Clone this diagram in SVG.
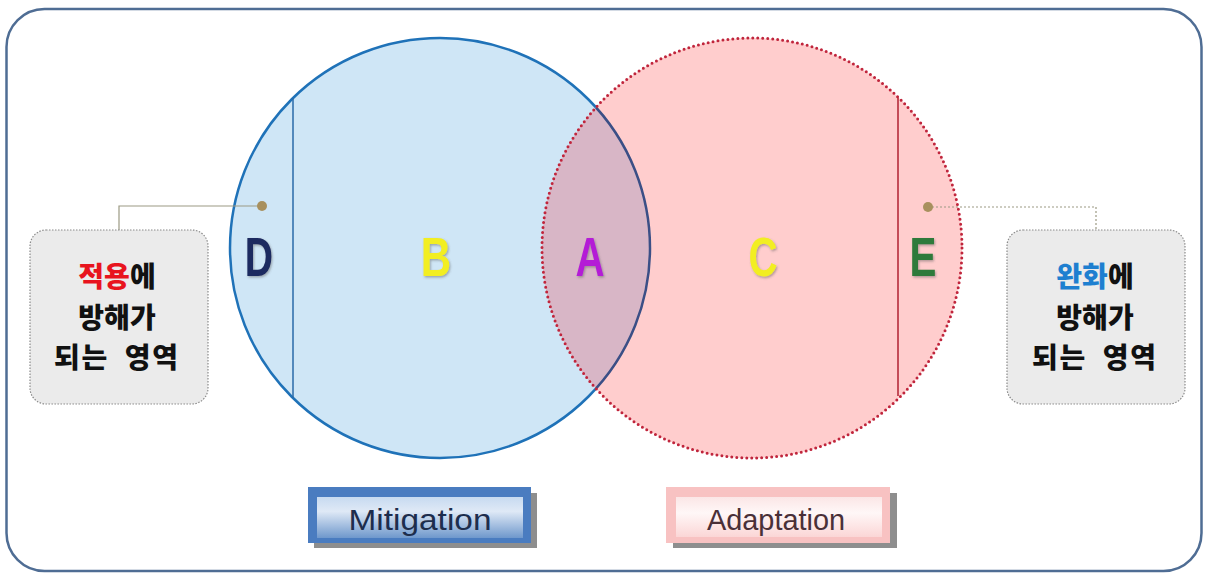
<svg xmlns="http://www.w3.org/2000/svg" width="1209" height="574" viewBox="0 0 1209 574">
<style>
.kr{font-family:"Noto Sans CJK KR","Noto Sans",sans-serif;font-weight:900;font-size:28px;text-anchor:middle;fill:#111}
.lt{font-family:"Liberation Sans",Arial,sans-serif;font-weight:bold;font-size:56px;text-anchor:middle}
.bt{font-family:"Liberation Sans",Arial,sans-serif;font-size:30px;text-anchor:middle}
.box{fill:#ebebeb;stroke:#8a8a8a;stroke-width:1.2;stroke-dasharray:1.5 1.5}
.lead{fill:none;stroke:#9c9a84;stroke-width:1.2}
</style>
<defs>
<clipPath id="pinkClip"><circle cx="752" cy="248" r="210"/></clipPath>
<linearGradient id="mitIn" x1="0" y1="0" x2="0" y2="1">
<stop offset="0" stop-color="#c7daf0"/><stop offset="0.35" stop-color="#dfe9f6"/><stop offset="1" stop-color="#6f98cc"/>
</linearGradient>
<linearGradient id="adaIn" x1="0" y1="0" x2="0" y2="1">
<stop offset="0" stop-color="#fbe6e6"/><stop offset="0.4" stop-color="#fff7f7"/><stop offset="1" stop-color="#fbd6d6"/>
</linearGradient>
<filter id="sh" x="-30%" y="-30%" width="160%" height="160%">
<feDropShadow dx="1.5" dy="1.5" stdDeviation="1.2" flood-color="#555" flood-opacity="0.45"/>
</filter>
</defs>
<rect x="0" y="0" width="1209" height="574" fill="#ffffff"/>
<rect x="6.5" y="9" width="1195" height="562" rx="38" ry="38" fill="#ffffff" stroke="#4f6d94" stroke-width="2.5"/>

<g id="mitigation-circle">
<circle cx="440" cy="248" r="210" fill="#cfe6f6" stroke="#1f72b8" stroke-width="2.5"/>
<line x1="293" y1="98" x2="293" y2="398" stroke="#2a6aa8" stroke-width="1.5"/>
</g>
<g id="adaptation-circle">
<circle cx="752" cy="248" r="210" fill="#ffcdcd"/>
<circle cx="440" cy="248" r="210" fill="#d8b6c6" clip-path="url(#pinkClip)"/>
<circle cx="440" cy="248" r="210" fill="none" stroke="#3b4f86" stroke-width="2.5" clip-path="url(#pinkClip)"/>
<line x1="898" y1="98" x2="898" y2="396" stroke="#b02030" stroke-width="1.5"/>
<circle cx="752" cy="248" r="210" fill="none" stroke="#c0253c" stroke-width="3" stroke-dasharray="0 5" stroke-linecap="round"/>
</g>

<g id="connectors">
<polyline class="lead" points="262,206 119,206 119,230"/>
<circle cx="262" cy="206" r="5" fill="#a8905e"/>
<polyline class="lead" points="928,207 1096,207 1096,230" stroke-dasharray="2 2"/>
<circle cx="928" cy="207" r="5" fill="#a8905e"/>
</g>

<g id="label-D"><text class="lt" fill="#1c2a60" filter="url(#sh)" transform="translate(259,276) scale(0.7,1)">D</text></g>
<g id="label-B"><text class="lt" fill="#f2ee22" filter="url(#sh)" transform="translate(436,276) scale(0.75,1)">B</text></g>
<g id="label-A"><text class="lt" fill="#b41fd6" filter="url(#sh)" transform="translate(590,276) scale(0.72,1)">A</text></g>
<g id="label-C"><text class="lt" fill="#f2ee22" filter="url(#sh)" transform="translate(763,276) scale(0.72,1)">C</text></g>
<g id="label-E"><text class="lt" fill="#2e7a3a" filter="url(#sh)" transform="translate(923,276) scale(0.72,1)">E</text></g>

<g id="left-box">
<rect class="box" x="30" y="230" width="178" height="174" rx="16" ry="16"/>
<text class="kr" x="117" y="287"><tspan fill="#e8141e">적용</tspan>에</text>
<text class="kr" x="117" y="328">방해가</text>
<text class="kr" x="116" y="368" xml:space="preserve" textLength="124">되는  영역</text>
</g>
<g id="right-box">
<rect class="box" x="1007" y="230" width="178" height="174" rx="16" ry="16"/>
<text class="kr" x="1095" y="287"><tspan fill="#1e7fd0">완화</tspan>에</text>
<text class="kr" x="1095" y="328">방해가</text>
<text class="kr" x="1094" y="368" xml:space="preserve" textLength="124">되는  영역</text>
</g>

<g id="mitigation-button">
<rect x="314" y="493" width="223" height="55" fill="#7a7a7a" opacity="0.85"/>
<rect x="308" y="487" width="223" height="56" fill="#4a7cc0"/>
<rect x="317" y="497" width="206" height="41" fill="url(#mitIn)"/>
<text class="bt" x="420" y="530" fill="#1d2d4d" textLength="143" lengthAdjust="spacingAndGlyphs">Mitigation</text>
</g>
<g id="adaptation-button">
<rect x="673" y="493" width="224" height="55" fill="#7a7a7a" opacity="0.85"/>
<rect x="666" y="487" width="224" height="56" fill="#f8c2c2"/>
<rect x="676" y="497" width="206" height="40" fill="url(#adaIn)"/>
<text class="bt" x="776" y="530" fill="#4a3038" textLength="138" lengthAdjust="spacingAndGlyphs">Adaptation</text>
</g>
</svg>
